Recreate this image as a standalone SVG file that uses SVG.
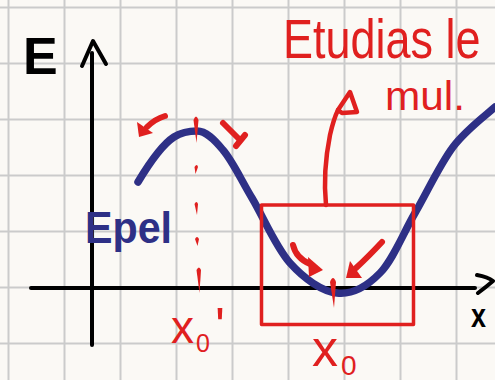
<svg xmlns="http://www.w3.org/2000/svg" width="495" height="380" viewBox="0 0 495 380">
<defs>
<style>
.grid line{stroke:#cbcbcb;stroke-width:2}
.ax{stroke:#000;stroke-width:4;fill:none;stroke-linecap:round;stroke-linejoin:round}
.red{stroke:#e0201f;fill:none;stroke-linecap:round;stroke-linejoin:round}
.redf{fill:#e0201f}
.rt{font-family:"Liberation Sans",Arial,sans-serif;fill:#e0201f}
.bt{font-family:"Liberation Sans",Arial,sans-serif;fill:#2e3086;font-weight:bold}
.kt{font-family:"Liberation Sans",Arial,sans-serif;fill:#000;font-weight:bold}
</style>
</defs>
<rect width="495" height="380" fill="#fbf9f5"/>
<g class="grid" id="grid">
<line x1="8.5" y1="0" x2="8.5" y2="380"/><line x1="64.5" y1="0" x2="64.5" y2="380"/><line x1="120.5" y1="0" x2="120.5" y2="380"/><line x1="176.5" y1="0" x2="176.5" y2="380"/><line x1="232.5" y1="0" x2="232.5" y2="380"/><line x1="288.5" y1="0" x2="288.5" y2="380"/><line x1="344.5" y1="0" x2="344.5" y2="380"/><line x1="400.5" y1="0" x2="400.5" y2="380"/><line x1="456.5" y1="0" x2="456.5" y2="380"/>
<line x1="0" y1="7.5" x2="495" y2="7.5"/><line x1="0" y1="63.5" x2="495" y2="63.5"/><line x1="0" y1="119.5" x2="495" y2="119.5"/><line x1="0" y1="175.5" x2="495" y2="175.5"/><line x1="0" y1="231.5" x2="495" y2="231.5"/><line x1="0" y1="287.5" x2="495" y2="287.5"/><line x1="0" y1="343.5" x2="495" y2="343.5"/>
</g>
<g id="axes">
<path class="ax" d="M92,345 L92,53"/>
<path class="ax" d="M82,66 L93,41 L106,64" stroke-width="5"/>
<path class="ax" d="M31,288 L475,288"/>
<path class="ax" d="M477,275 Q488,277 493,281 Q486,287 478,293" stroke-width="5"/>
<text class="kt" x="23" y="74" font-size="52">E</text>
<text class="kt" x="471" y="327" font-size="34" textLength="15" lengthAdjust="spacingAndGlyphs">x</text>
</g>
<g id="curve">
<path d="M138,182 C144,172 160,146 174,137 C182,132 188,131 197,131 C206,131 214,139 223,150 C232.5,161 240.8,179.2 252,198 C263.2,216.8 275.8,247.2 290,263 C304.2,278.8 322,291.3 337,293 C352,294.7 367,286.3 380,273 C393,259.7 402.8,234 415,213 C427.2,192 439.7,164.7 453,147 C466.3,129.3 488,113.7 495,107" fill="none" stroke="#2e3086" stroke-width="7.5" stroke-linecap="round"/>
<text class="bt" x="85" y="243" font-size="44" textLength="87" lengthAdjust="spacingAndGlyphs">Epel</text>
</g>
<g id="box">
<rect x="261.5" y="205" width="152" height="119.5" class="red" stroke-width="3.5"/>
</g>
<g id="connectors">
<path class="red" stroke-width="4.5" d="M326,205 C324,185 325,160 330,135 C333,122 336,114 338,110"/>
<path class="red" stroke-width="4.5" d="M338,110 L350,92 L357,112 L342,113 Z"/>
</g>
<g id="peak-marks">
<path class="red" stroke-width="6" d="M165,116 Q155,119 147,127"/>
<polygon class="redf" points="137,122 139,137 153,133"/>
<path class="redf" d="M193.5,120 Q196,113 198.5,120 L196.5,143 Z"/>
<path class="redf" d="M194.5,167 Q197,163 198,167 L195.5,174 Z"/>
<path class="redf" d="M194.5,204 Q196.5,200 198,204 L197,215 Z"/>
<path class="redf" d="M195,239 Q197,235 199,239 L197.5,246 Z"/>
<path class="redf" d="M196.5,270 Q199,265 201,270 L199.5,293 Z"/>
<path class="red" stroke-width="6" d="M223,123 L240,140"/>
<path class="red" stroke-width="6" d="M236,146 L245,135"/>
</g>
<g id="min-marks">
<path class="red" stroke-width="6" d="M293,245 Q296,258 310,264"/>
<polygon class="redf" points="308,257 323,270 309,277"/>
<path class="red" stroke-width="6" d="M382,242 Q368,257 356,268"/>
<polygon class="redf" points="350,261 346,278 362,278"/>
<path class="redf" d="M330,282 Q333,274 336,282 L334,308 Z"/>
</g>
<g id="labels">
<text class="rt" transform="translate(283,58) scale(0.9,1.1)" x="0" y="0" font-size="50">Etudias le</text>
<text class="rt" x="385" y="110" font-size="40" textLength="80" lengthAdjust="spacingAndGlyphs">mul.</text>
<text class="rt" font-size="46"><tspan x="171" y="343">x</tspan><tspan x="196" y="352" font-size="25">0</tspan><tspan x="215" y="344" font-size="52">'</tspan></text>
<text class="rt" font-size="52"><tspan x="312" y="366">x</tspan><tspan x="341" y="375" font-size="28">0</tspan></text>
</g>
</svg>
